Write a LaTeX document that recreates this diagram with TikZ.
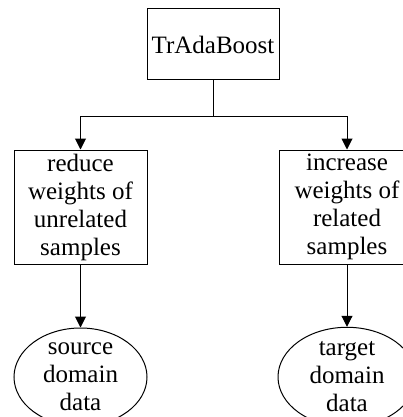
\documentclass[tikz,border=0pt]{standalone}
\usepackage{fontspec}
\setmainfont{Liberation Serif}
\usetikzlibrary{arrows.meta,shapes.geometric}
\begin{document}
\begin{tikzpicture}[x=1pt,y=-1pt,
  txt/.style={font=\fontsize{25}{28}\selectfont,align=center,inner sep=0pt},
  boxnode/.style={txt,draw,line width=1pt,rectangle},
  ellnode/.style={txt,draw,line width=1pt,ellipse},
  conn/.style={line width=1pt,-{Triangle[length=11pt,width=11pt]}}]
\useasboundingbox (0,0) rectangle (403,417);
\node[boxnode,minimum width=132pt,minimum height=71pt] (top) at (213,44.5) {TrAdaBoost};
\node[boxnode,minimum width=133pt,minimum height=114pt] (left) at (80.5,207) {reduce\\weights of\\unrelated\\samples};
\node[boxnode,minimum width=136pt,minimum height=114pt] (right) at (347,207) {increase\\weights of\\related\\samples};
\node[ellnode,minimum width=133pt,minimum height=98pt] (lell) at (80.5,377) {source\\domain\\data};
\node[ellnode,minimum width=138pt,minimum height=98pt] (rell) at (347,377) {target\\domain\\data};
\coordinate (j) at (213,116);
\draw[line width=1pt] (top.south) -- (j);
\draw[conn] (j) -| (left.north);
\draw[conn] (j) -| (right.north);
\draw[conn] (left.south) -- (lell.north);
\draw[conn] (right.south) -- (rell.north);
\end{tikzpicture}
\end{document}
